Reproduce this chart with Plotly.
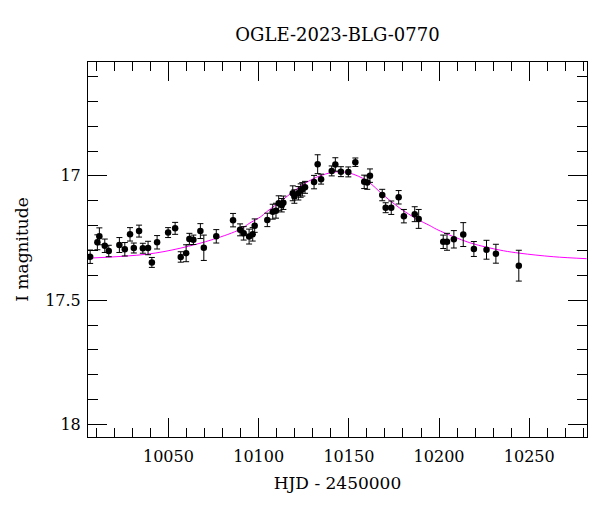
import plotly.graph_objects as go

# Observations (HJD - 2450000, I magnitude, error)
hjd = [10006.6, 10010.6, 10011.7, 10014.7, 10016.9, 10022.8, 10025.8, 10028.7, 10030.8, 10033.7,
       10035.8, 10038.7, 10040.8, 10043.7, 10049.8, 10053.7, 10056.8, 10059.8, 10061.6, 10063.8,
       10067.7, 10069.6, 10076.5, 10085.8, 10089.7, 10091.7, 10094.7, 10096.7, 10097.8, 10104.8,
       10107.8, 10109.6, 10111.1, 10112.8, 10113.7, 10118.9, 10119.8, 10122.0, 10123.3, 10124.2,
       10125.7, 10130.7, 10132.7, 10134.6, 10140.5, 10142.5, 10145.6, 10149.7, 10153.6, 10158.5,
       10160.2, 10161.7, 10168.5, 10170.4, 10173.5, 10177.6, 10180.5, 10186.5, 10188.7, 10202.3,
       10204.4, 10208.2, 10213.4, 10219.3, 10226.3, 10231.5, 10244.2]
mag = [17.325, 17.267, 17.243, 17.281, 17.302, 17.278, 17.295, 17.235, 17.290, 17.222,
       17.291, 17.290, 17.348, 17.267, 17.228, 17.211, 17.326, 17.311, 17.254, 17.257,
       17.222, 17.289, 17.243, 17.178, 17.217, 17.231, 17.244, 17.235, 17.200, 17.177,
       17.144, 17.140, 17.110, 17.118, 17.108, 17.070, 17.083, 17.070, 17.059, 17.054,
       17.046, 17.025, 16.953, 17.013, 16.980, 16.954, 16.983, 16.984, 16.945, 17.024,
       17.027, 16.999, 17.077, 17.128, 17.128, 17.086, 17.162, 17.154, 17.173, 17.265,
       17.265, 17.255, 17.236, 17.294, 17.297, 17.313, 17.361]
err = [0.027, 0.030, 0.034, 0.027, 0.023, 0.030, 0.027, 0.027, 0.020, 0.024,
       0.020, 0.027, 0.020, 0.027, 0.020, 0.024, 0.021, 0.034, 0.023, 0.019,
       0.030, 0.051, 0.027, 0.027, 0.024, 0.027, 0.030, 0.027, 0.027, 0.027,
       0.030, 0.030, 0.030, 0.027, 0.027, 0.030, 0.027, 0.027, 0.027, 0.027,
       0.024, 0.027, 0.038, 0.020, 0.020, 0.027, 0.020, 0.020, 0.017, 0.027,
       0.027, 0.027, 0.023, 0.020, 0.027, 0.027, 0.027, 0.030, 0.038, 0.027,
       0.034, 0.035, 0.048, 0.030, 0.038, 0.038, 0.062]

# Model light curve
model_hjd = [10005.3, 10038.0, 10056.4, 10074.9, 10089.7, 10095.2, 10100.8, 10104.5, 10113.7,
             10122.9, 10132.2, 10141.4, 10145.1, 10150.6, 10159.9, 10169.1, 10178.3, 10187.6,
             10194.9, 10198.7, 10207.9, 10217.1, 10226.4, 10235.6, 10244.8, 10263.3, 10281.8]
model_mag = [17.331, 17.315, 17.291, 17.255, 17.215, 17.189, 17.166, 17.144, 17.094,
             17.043, 17.005, 16.985, 16.984, 16.989, 17.019, 17.077, 17.130, 17.173,
             17.200, 17.215, 17.244, 17.269, 17.287, 17.301, 17.311, 17.325, 17.333]

FONT = "DejaVu Serif"

fig = go.Figure()
fig.add_trace(go.Scatter(
    x=model_hjd, y=model_mag, mode="lines", line=dict(color="#ff00ff", width=1, shape="spline"),
    hoverinfo="skip", showlegend=False))
fig.add_trace(go.Scatter(
    x=hjd, y=mag, mode="markers",
    marker=dict(color="black", size=6.5),
    error_y=dict(type="data", array=err, visible=True, color="black", thickness=1, width=3),
    showlegend=False))

axis_common = dict(
    showline=True, linecolor="black", linewidth=1, mirror="allticks",
    ticks="inside", ticklen=19, tickwidth=1, tickcolor="black",
    showgrid=False, zeroline=False, automargin=False,
    tickfont=dict(family=FONT, size=16, color="black"),
)

fig.update_xaxes(
    range=[10005.4, 10282], tick0=10000, dtick=50, tickformat="d", ticklabelstandoff=5,
    minor=dict(ticks="inside", ticklen=9, dtick=10, tick0=10000, tickcolor="black", showgrid=False),
    title=dict(text="HJD - 2450000", font=dict(family=FONT, size=17, color="black"), standoff=11),
    **axis_common)
fig.update_yaxes(
    range=[18.05, 16.542], tick0=17, dtick=0.5, ticklabelstandoff=3,
    minor=dict(ticks="inside", ticklen=10, dtick=0.1, tick0=17, tickcolor="black", showgrid=False),
    title=dict(text="I magnitude", font=dict(family=FONT, size=17, color="black"), standoff=12),
    **axis_common)

fig.update_layout(
    width=600, height=512,
    margin=dict(l=80, r=21, t=54, b=83),
    plot_bgcolor="white", paper_bgcolor="white",
    title=dict(text="OGLE-2023-BLG-0770", x=0.5, xref="paper", xanchor="center",
               y=1 - 27 / 512, yref="container", yanchor="middle",
               font=dict(family=FONT, size=18, color="black")),
    font=dict(family=FONT, color="black"),
)

fig.write_html("out.html")
